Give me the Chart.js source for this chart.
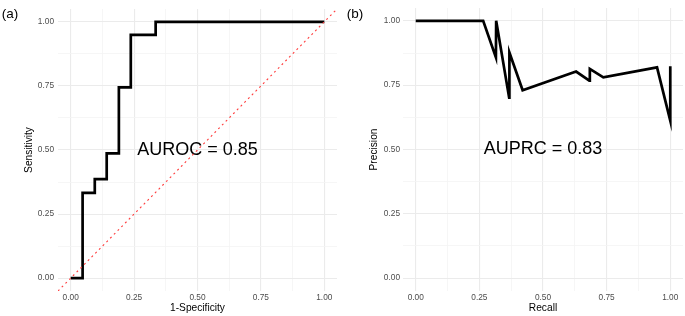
<!DOCTYPE html>
<html>
<head>
<meta charset="utf-8">
<script src="https://cdn.jsdelivr.net/npm/chart.js@4.4.1/dist/chart.umd.min.js"></script>
<style>
  html, body { margin: 0; padding: 0; background: #fff; }
  #wrap { position: relative; width: 685px; height: 316px; }
  canvas { position: absolute; top: 0; }
</style>
</head>
<body>
<div id="wrap">
  <canvas id="rocChart" width="342" height="316" style="left:0"></canvas>
  <canvas id="prChart" width="343" height="316" style="left:342px"></canvas>
</div>
<script>
// Panel (a): ROC curve, step vertices
const rocFpr = [0, 0.047, 0.095, 0.142, 0.19, 0.237, 0.335, 1];
const rocTpr = [0, 0.333, 0.386, 0.487, 0.744, 0.949, 1, 1];
// chance line y = x across the whole panel
const diagX = [-0.05, 1.05];

// Panel (b): precision-recall curve
const prRecall    = [0, 0.265, 0.315, 0.316, 0.367, 0.368, 0.42, 0.63, 0.682, 0.684, 0.737, 0.948, 1.0, 1.0];
const prPrecision = [1, 1, 0.858, 1, 0.701, 0.877, 0.73, 0.803, 0.768, 0.813, 0.78, 0.819, 0.612, 0.824];

// ticks shared by both panels
const majorTicks = [0, 0.25, 0.5, 0.75, 1];
const minorTicks = [0.125, 0.375, 0.625, 0.875];

const FONT = "'Liberation Sans', Arial, sans-serif";

function isMajor(v) {
    return majorTicks.some(t => Math.abs(t - v) < 1e-6);
}

function axis(titleText, isX, fitSize, titlePad, tickPad) {
    return {
        type: 'linear',
        min: -0.05, max: 1.05,
        border: { display: false },
        grid: {
            drawTicks: false,
            color: c => (c.tick && isMajor(c.tick.value)) ? '#ebebeb' : '#f4f4f4',
            lineWidth: c => (c.tick && isMajor(c.tick.value)) ? 1.1 : 0.8
        },
        afterBuildTicks: s => {
            s.ticks = majorTicks.concat(minorTicks).sort((a, b) => a - b).map(v => ({ value: v }));
        },
        afterFit: s => { if (isX) s.height = fitSize; else s.width = fitSize; },
        ticks: {
            autoSkip: false, maxRotation: 0,
            padding: tickPad,
            color: '#4d4d4d',
            font: { family: FONT, size: 8.3 },
            callback: v => isMajor(v) ? v.toFixed(2) : ''
        },
        title: {
            display: true, text: titleText, color: '#000',
            font: { family: FONT, size: 10.2 },
            padding: isX ? { top: 0, bottom: 1.5 } : { top: titlePad, bottom: 0 }
        }
    };
}

// draws the panel letter and the AUC note
function textPlugin(letter, letterX, note) {
    return {
        id: 'panelText',
        beforeDatasetsDraw(chart) {
            const ctx = chart.ctx;
            const { x, y } = chart.scales;
            ctx.save();
            ctx.fillStyle = '#000';
            ctx.textBaseline = 'middle';
            ctx.textAlign = 'center';
            ctx.font = `18px ${FONT}`;
            ctx.fillText(note, x.getPixelForValue(0.5), y.getPixelForValue(0.5));
            ctx.textAlign = 'left';
            ctx.font = `13.5px ${FONT}`;
            ctx.fillText(letter, letterX, 14);
            ctx.restore();
        }
    };
}

new Chart(document.getElementById('rocChart'), {
    type: 'line',
    data: {
        datasets: [
            {
                data: diagX.map(v => ({ x: v, y: v })),
                borderColor: '#ff3b3b', borderWidth: 1.1,
                borderDash: [2, 3.3], pointRadius: 0, order: 0
            },
            {
                data: rocFpr.map((v, i) => ({ x: v, y: rocTpr[i] })),
                borderColor: '#000', borderWidth: 2.7, stepped: 'before',
                pointRadius: 0, order: 1
            }
        ]
    },
    options: {
        responsive: false, animation: false,
        layout: { padding: { top: 3, right: 5, bottom: 0, left: 0 } },
        plugins: { legend: { display: false }, tooltip: { enabled: false } },
        scales: {
            x: axis('1-Specificity', true, 25, 0, 2),
            y: axis('Sensitivity', false, 58, 23, 4)
        }
    },
    plugins: [textPlugin('(a)', 1.7, 'AUROC = 0.85')]
});

new Chart(document.getElementById('prChart'), {
    type: 'line',
    data: {
        datasets: [
            {
                data: prRecall.map((v, i) => ({ x: v, y: prPrecision[i] })),
                borderColor: '#000', borderWidth: 2.7, pointRadius: 0
            }
        ]
    },
    options: {
        responsive: false, animation: false,
        layout: { padding: { top: 3, right: 2, bottom: 0, left: 0 } },
        plugins: { legend: { display: false }, tooltip: { enabled: false } },
        scales: {
            x: axis('Recall', true, 25, 0, 2),
            y: axis('Precision', false, 61, 26, 3)
        }
    },
    plugins: [textPlugin('(b)', 4.7, 'AUPRC = 0.83')]
});
</script>
</body>
</html>
